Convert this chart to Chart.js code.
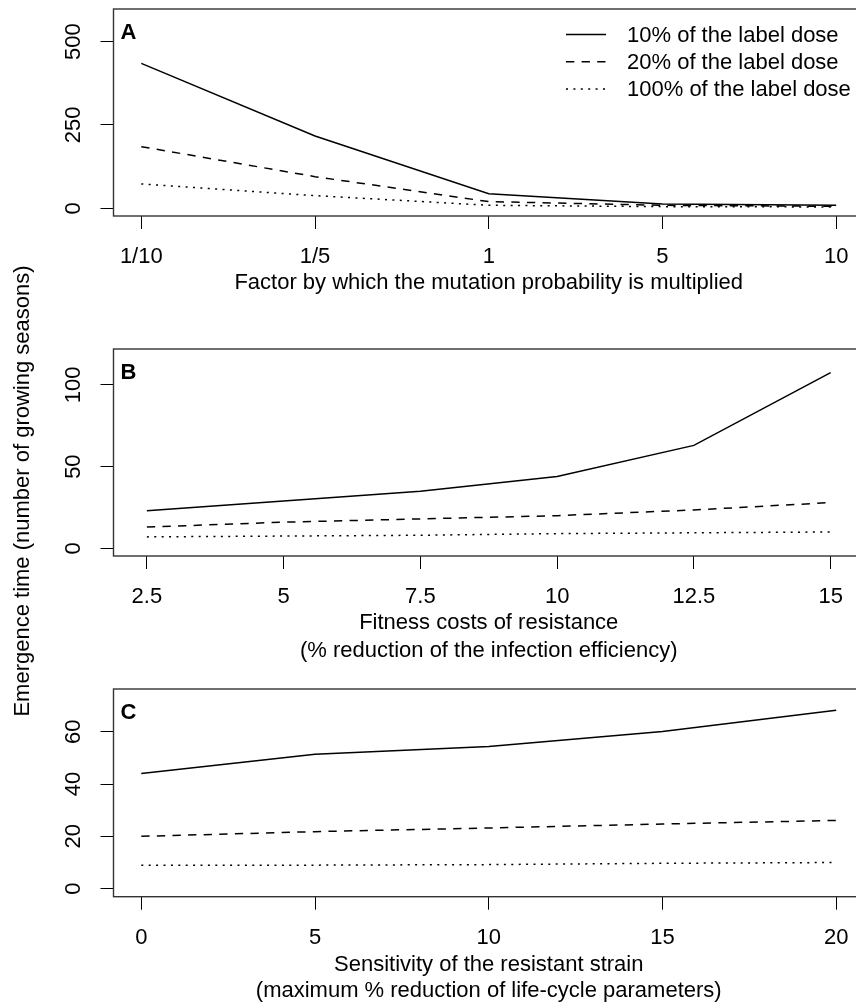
<!DOCTYPE html>
<html><head><meta charset="utf-8">
<script src="https://cdn.jsdelivr.net/npm/chart.js@4.4.1/dist/chart.umd.min.js"></script>
<style>
html,body{margin:0;padding:0;background:#fff;overflow:hidden;}
#wrap{position:relative;width:856px;height:1003px;overflow:hidden;background:#fff;}
#wrap canvas{position:absolute;left:0;top:0;}
</style></head><body>
<div id="wrap">
<canvas id="cA" width="880" height="1010"></canvas>
<canvas id="cB" width="880" height="1010"></canvas>
<canvas id="cC" width="880" height="1010"></canvas>
</div>
<script>
// ---------- data ----------
const seriesLabels = ['10% of the label dose', '20% of the label dose', '100% of the label dose'];
const yAxisTitle = 'Emergence time (number of growing seasons)';

// Panel A
const catA = ['1/10', '1/5', '1', '5', '10'];
const xA = [1, 2, 3, 4, 5];
const a10 = [435, 217, 44, 13, 9];
const a20 = [185, 95, 20, 9, 6];
const a100 = [73, 38, 9, 5, 4];
const yTicksA = [0, 250, 500];
const titleA = 'Factor by which the mutation probability is multiplied';

// Panel B
const xB = [2.5, 5, 7.5, 10, 12.5, 15];
const b10 = [23, 29, 35, 44, 63, 107.5];
const b20 = [13, 16, 18, 20, 23.5, 28];
const b100 = [7, 7.5, 8, 9, 9.5, 10];
const yTicksB = [0, 50, 100];
const titleB = ['Fitness costs of resistance', '(% reduction of the infection efficiency)'];

// Panel C
const xC = [0, 5, 10, 15, 20];
const c10 = [44, 51.4, 54.3, 60.1, 68.2];
const c20 = [20, 21.8, 23.2, 24.7, 26.1];
const c100 = [9, 9, 9.2, 9.7, 10];
const yTicksC = [0, 20, 40, 60];
const titleC = ['Sensitivity of the resistant strain', '(maximum % reduction of life-cycle parameters)'];

// ---------- style ----------
const FONT = "'Liberation Sans', Arial, Helvetica, sans-serif";
Chart.defaults.font.family = FONT;
Chart.defaults.font.size = 22;
Chart.defaults.color = '#000';
const dashes = [[], [8.3, 7.3], [2, 5.4]];
const LW = 1.5;

function datasets(xs, ys) {
  return ys.map((vals, i) => ({
    label: seriesLabels[i],
    data: xs.map((x, j) => ({x: x, y: vals[j]})),
    borderColor: '#000',
    borderWidth: LW,
    borderDash: dashes[i],
    pointRadius: 0,
    fill: false,
    tension: 0
  }));
}

function panelPlugin(letter, withLegend, withYTitle) {
  return {
    id: 'panel' + letter,
    afterDraw(chart) {
      const ctx = chart.ctx, a = chart.chartArea;
      ctx.save();
      // box
      ctx.strokeStyle = '#333';
      ctx.lineWidth = 1.4;
      ctx.strokeRect(a.left, a.top, a.right - a.left, a.bottom - a.top);
      // panel letter
      ctx.fillStyle = '#000';
      ctx.font = 'bold 22px ' + FONT;
      ctx.textAlign = 'left';
      ctx.textBaseline = 'alphabetic';
      ctx.fillText(letter, a.left + 7, a.top + 29.5);
      if (withLegend) {
        ctx.font = '22px ' + FONT;
        ctx.textBaseline = 'middle';
        chart.data.datasets.forEach((ds, i) => {
          const y = 34.5 + 27.3 * i;
          ctx.beginPath();
          ctx.setLineDash(ds.borderDash);
          ctx.lineWidth = ds.borderWidth;
          ctx.strokeStyle = ds.borderColor;
          ctx.moveTo(566, y);
          ctx.lineTo(606, y);
          ctx.stroke();
          ctx.setLineDash([]);
          ctx.fillText(ds.label, 627, y + 1);
        });
      }
      if (withYTitle) {
        ctx.translate(29.3, 491);
        ctx.rotate(-Math.PI / 2);
        ctx.font = '22px ' + FONT;
        ctx.textAlign = 'center';
        ctx.textBaseline = 'alphabetic';
        ctx.fillText(yAxisTitle, 0, 0);
      }
      ctx.restore();
    }
  };
}

function makeChart(id, cfg) {
  const grid = {display: true, drawOnChartArea: false, drawTicks: true, tickLength: 13, color: '#000', lineWidth: 1};
  return new Chart(document.getElementById(id), {
    type: 'line',
    data: {datasets: datasets(cfg.xs, cfg.ys)},
    options: {
      responsive: false,
      animation: false,
      events: [],
      layout: {padding: {top: cfg.padTop, bottom: cfg.padBottom, left: 0, right: 16}},
      plugins: {legend: {display: false}, tooltip: {enabled: false}},
      scales: {
        x: {
          type: 'linear', min: cfg.xMin, max: cfg.xMax,
          afterBuildTicks: s => { s.ticks = cfg.xTicks.map(v => ({value: v})); },
          ticks: {callback: cfg.xLabel, padding: 14.8, minRotation: 0, maxRotation: 0, autoSkip: false, color: '#000'},
          grid: grid,
          border: {display: false},
          title: {display: true, text: cfg.title, color: '#000', font: {size: 22, lineHeight: cfg.titleLH}, padding: {top: 0, bottom: 0}},
          afterFit: s => { s.height = cfg.axisH; s.paddingLeft = 0; s.paddingRight = 0; }
        },
        y: {
          type: 'linear', min: cfg.yMin, max: cfg.yMax,
          afterBuildTicks: s => { s.ticks = cfg.yTicks.map(v => ({value: v})); },
          ticks: {minRotation: 90, maxRotation: 90, crossAlign: 'center', padding: cfg.yPad, autoSkip: false, color: '#000', callback: v => String(v)},
          grid: grid,
          border: {display: false},
          afterFit: s => { s.width = 113.5; s.paddingTop = 0; s.paddingBottom = 0; }
        }
      }
    },
    plugins: [panelPlugin(cfg.letter, cfg.legend, cfg.yTitle)]
  });
}

makeChart('cA', {
  xs: xA, ys: [a10, a20, a100], xMin: 0.84, xMax: 5.16, xTicks: xA, xLabel: v => catA[v - 1],
  yMin: -23.1, yMax: 598, yTicks: yTicksA, yPad: 7.8,
  title: titleA, titleLH: 1.2, padTop: 9, padBottom: 714, axisH: 80, letter: 'A', legend: true, yTitle: false
});
makeChart('cB', {
  xs: xB, ys: [b10, b20, b100], xMin: 1.89, xMax: 15.61, xTicks: xB, xLabel: v => String(v),
  yMin: -4.7, yMax: 122, yTicks: yTicksB, yPad: 7.8,
  title: titleB, titleLH: 1.27, padTop: 349, padBottom: 345, axisH: 109, letter: 'B', legend: false, yTitle: true
});
makeChart('cC', {
  xs: xC, ys: [c10, c20, c100], xMin: -0.8, xMax: 20.8, xTicks: xC, xLabel: v => String(v),
  yMin: -3.06, yMax: 76.3, yTicks: yTicksC, yPad: 13.9,
  title: titleC, titleLH: 1.18, padTop: 689, padBottom: 6, axisH: 107.3, letter: 'C', legend: false, yTitle: false
});
</script>
</body></html>
